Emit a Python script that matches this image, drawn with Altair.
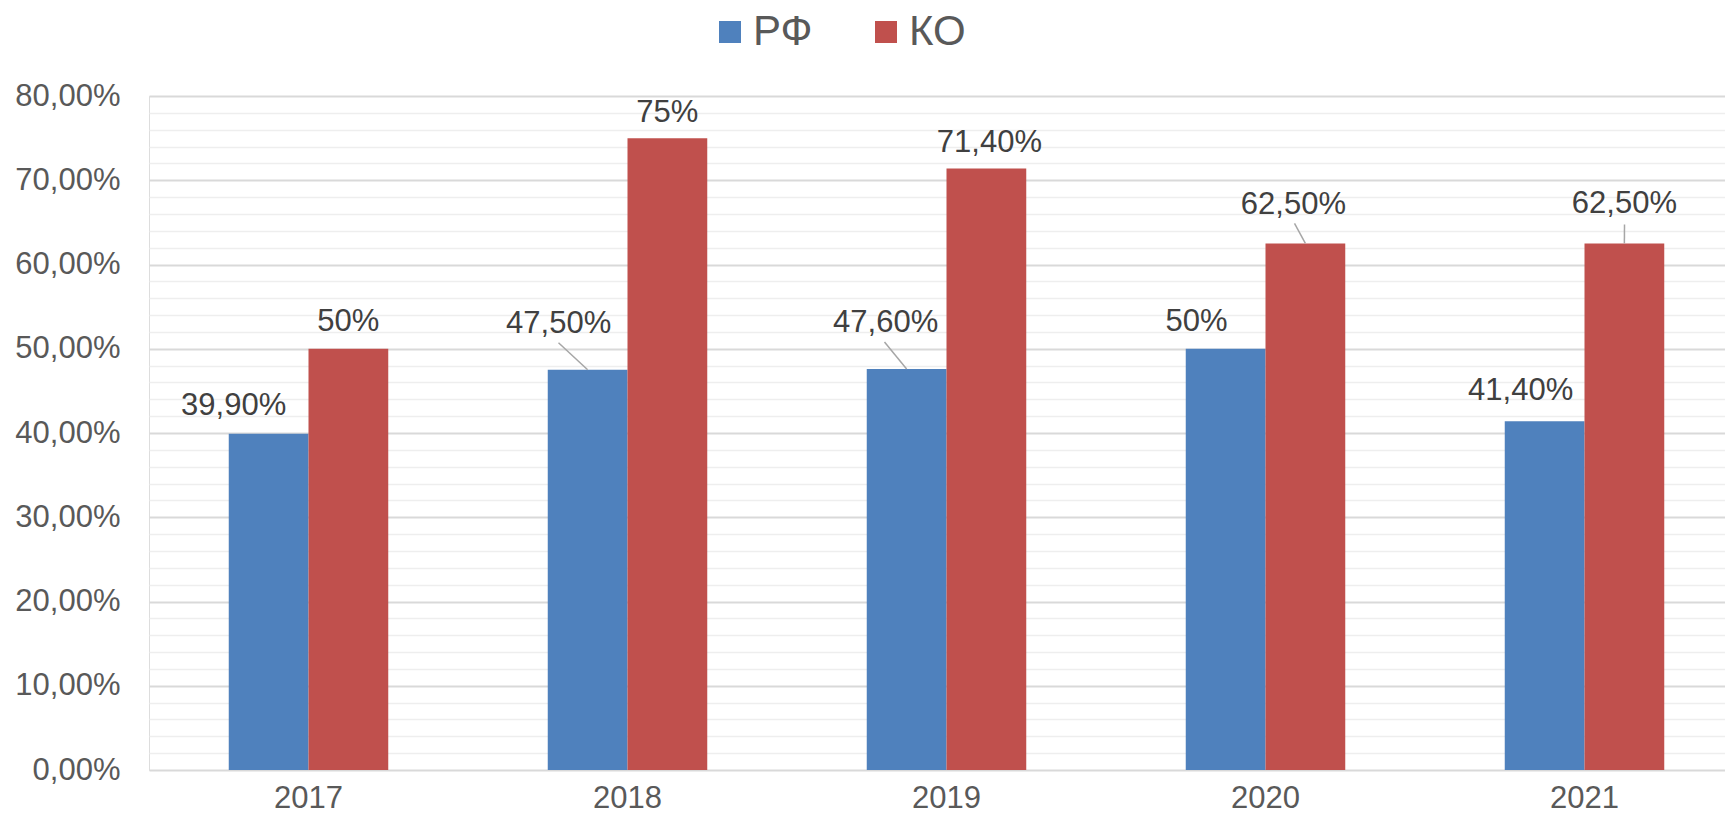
import altair as alt
import pandas as pd

# ---- data ----
years = ["2017", "2018", "2019", "2020", "2021"]
series = ["РФ", "КО"]
rf_values = [39.9, 47.5, 47.6, 50.0, 41.4]   # percent
ko_values = [50.0, 75.0, 71.4, 62.5, 62.5]   # percent
colors = ["#4f81bd", "#c0504d"]


def fmt(v):
    if float(v).is_integer():
        return f"{int(v)}%"
    return f"{v:.2f}".replace(".", ",") + "%"


rows = []
for y, a, b in zip(years, rf_values, ko_values):
    rows.append({"year": y, "series": "РФ", "value": a / 100, "label": fmt(a)})
    rows.append({"year": y, "series": "КО", "value": b / 100, "label": fmt(b)})
df = pd.DataFrame(rows)

# ---- styling: label offsets (dx, dy in px) relative to bar top centre ----
label_style = {
    ("2017", "РФ"): (-35, -19), ("2017", "КО"): (0, -18),
    ("2018", "РФ"): (-29, -37), ("2018", "КО"): (0, -16),
    ("2019", "РФ"): (-21, -37), ("2019", "КО"): (3, -16),
    ("2020", "РФ"): (-29, -18), ("2020", "КО"): (-12, -29),
    ("2021", "РФ"): (-24, -21), ("2021", "КО"): (0, -30),
}
# leader lines: (x2Offset from group centre, y2Offset from bar top)
leader_style = {
    ("2018", "РФ"): (-69, -27),
    ("2019", "РФ"): (-62, -27),
    ("2020", "КО"): (29, -20),
    ("2021", "КО"): (40, -19),
}

FONT = "Liberation Sans"

major_test = "round(datum.value * 100) % 10 === 0"
y_ticks = [round(i * 0.02, 2) for i in range(41)]

x_enc = alt.X(
    "year:N",
    sort=years,
    scale=alt.Scale(paddingInner=0.5, paddingOuter=0.25, range=[0, 1595]),
    axis=alt.Axis(
        title=None, domain=False, ticks=False, tickSize=0, grid=False,
        labelAngle=0, labelFontSize=31, labelColor="#595959", labelFont=FONT,
        labelPadding=13, labelBaseline="top",
    ),
)
xoff_enc = alt.XOffset("series:N", sort=series,
                       scale=alt.Scale(domain=series, paddingInner=0, paddingOuter=0))
y_enc = alt.Y(
    "value:Q",
    scale=alt.Scale(domain=[0, 0.8], nice=False),
    axis=alt.Axis(
        title=None, values=y_ticks, domain=False, ticks=False, tickSize=0,
        labelFontSize=31, labelColor="#595959", labelFont=FONT, labelPadding=29,
        labelOverlap=False,
        labelExpr=f"{major_test} ? replace(format(datum.value, '.2%'), '.', ',') : ''",
        gridColor={"condition": {"test": major_test, "value": "#d9d9d9"}, "value": "#eeeeee"},
        gridWidth={"condition": {"test": major_test, "value": 2}, "value": 1.5},
    ),
)

base = alt.Chart(df).encode(x=x_enc, xOffset=xoff_enc, y=y_enc)

bars = base.mark_bar().encode(
    color=alt.Color(
        "series:N",
        sort=series,
        scale=alt.Scale(domain=series, range=colors),
        legend=alt.Legend(
            title=None, orient="none", direction="horizontal",
            legendX=560, legendY=-85, padding=0,
            symbolType="square", symbolSize=484, symbolStrokeWidth=0,
            labelFontSize=42, labelColor="#595959", labelFont=FONT,
            labelOffset=2, columnPadding=52,
        ),
    )
)

layers = [bars]
for (yr, s), (dx, dy) in label_style.items():
    layers.append(
        base.transform_filter((alt.datum.year == yr) & (alt.datum.series == s))
        .mark_text(dx=dx, dy=dy, align="center", baseline="alphabetic",
                   fontSize=31, color="#404040", font=FONT)
        .encode(text="label:N")
    )
for (yr, s), (ox, oy) in leader_style.items():
    layers.append(
        base.transform_filter((alt.datum.year == yr) & (alt.datum.series == s))
        .mark_rule(color="#a6a6a6", strokeWidth=1.5, x2Offset=ox, y2Offset=oy)
        .encode(x2="year:N", y2="value:Q")
    )

chart = (
    alt.layer(*layers)
    .properties(
        width=1576, height=674,
        padding={"left": 141, "top": 88, "right": 0, "bottom": 45},
        autosize=alt.AutoSizeParams(type="none"),
        background="white",
    )
    .configure_view(stroke=None)
    .configure(font=FONT)
)

chart.save("out.html", embed_options={"renderer": "svg", "actions": False})
